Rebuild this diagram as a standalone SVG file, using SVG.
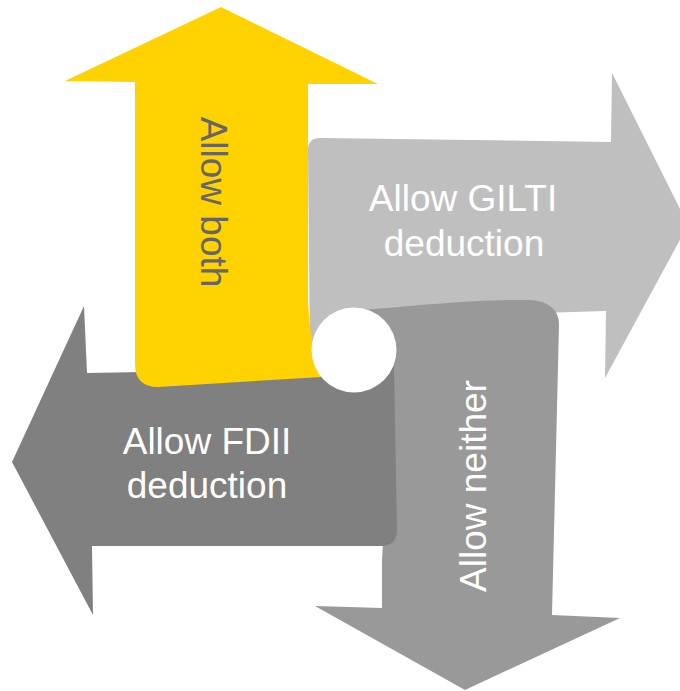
<svg xmlns="http://www.w3.org/2000/svg" width="680" height="691" viewBox="0 0 680 691">
<style>
  .lbl { font-family: "Liberation Sans", Arial, sans-serif; font-size: 37px; text-anchor: middle; }
  .w { fill: #ffffff; }
  .g { fill: #666666; }
</style>
<rect width="680" height="691" fill="#ffffff"/>
<g id="connectors"></g>
<g id="gilti">
  <path d="M 320,138 L 611,142 L 612,73 L 688,225 L 605,378 L 606,311 L 380,318 L 310,352 L 308,150 Q 308,138 320,138 Z" fill="#BFBFBF"/>
  <text class="lbl w" x="463" y="211">Allow GILTI</text>
  <text class="lbl w" x="464" y="256">deduction</text>
</g>
<g id="neither">
  <path d="M 340,312 C 420,305 480,299 530,300 Q 559,302 559,325 L 552,615 L 620,618 L 465,690 L 315,606 L 382,608 L 382,560 L 390,420 L 345,340 Z" fill="#999999"/>
  <text class="lbl w" transform="translate(486,486) rotate(-90)" x="0" y="0">Allow neither</text>
</g>
<g id="fdii">
  <path d="M 87,373 L 360,368 L 394,366 L 397,530 Q 397,546 381,546 L 92,546 L 93,615 L 12,462 L 84,306 Z" fill="#808080"/>
  <text class="lbl w" x="207" y="454">Allow FDII</text>
  <text class="lbl w" x="207" y="498">deduction</text>
</g>
<g id="both">
  <path d="M 221,7 L 378,84 L 308,84 L 308,300 Q 310,345 321,377 L 158,387 Q 135,387 135,364 L 135,82 L 65,81 Z" fill="#FFD200"/>
  <text class="lbl g" transform="translate(201,202) rotate(90)" x="0" y="0">Allow both</text>
</g>
<g id="center">
  <circle cx="354" cy="350" r="42.5" fill="#ffffff"/>
</g>
</svg>
